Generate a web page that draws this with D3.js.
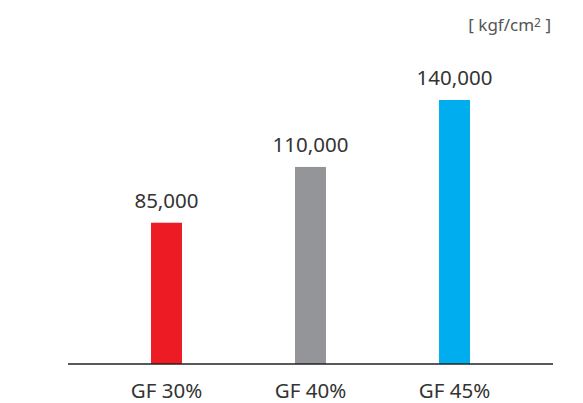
<!DOCTYPE html>
<html><head><meta charset="utf-8">
<script src="https://cdn.jsdelivr.net/npm/d3@7"></script>
<style>body{margin:0;background:#fff}</style>
</head><body>
<script>
const categories = ["GF 30%", "GF 40%", "GF 45%"];
const values = [85000, 110000, 140000];
const colors = ["#ED1C24", "#939598", "#00AEEF"];
const unitLabel = "kgf/cm";

const W = 583, H = 403;
const svg = d3.select("body").append("svg").attr("width", W).attr("height", H);
const font = "'Noto Sans', 'Open Sans', sans-serif";

const x = d3.scaleBand().domain(categories).range([68, 553]).paddingInner(0.785).paddingOuter(0.5765);
const y = d3.scaleLinear().domain([21700, 140000]).range([364, 100]);

svg.selectAll("rect.bar").data(values).join("rect")
  .attr("class", "bar")
  .attr("x", (d, i) => x(categories[i]))
  .attr("width", x.bandwidth())
  .attr("y", d => y(d))
  .attr("height", d => y.range()[0] - y(d))
  .attr("fill", (d, i) => colors[i]);

const xAxis = svg.append("g").attr("transform", "translate(0,364)")
  .call(d3.axisBottom(x).tickSize(0).tickPadding(0));
xAxis.select(".domain").attr("stroke", "#222").attr("stroke-width", 1.3).attr("d", "M68,0H553");
xAxis.selectAll("text").attr("font-family", font).attr("font-size", 20.5).attr("fill", "#333")
  .attr("dy", null).attr("y", 33.5);

svg.selectAll("text.val").data(values).join("text")
  .attr("class", "val")
  .attr("x", (d, i) => x(categories[i]) + x.bandwidth() / 2)
  .attr("y", d => y(d) - 15)
  .attr("text-anchor", "middle")
  .attr("font-family", font).attr("font-size", 20.5).attr("fill", "#333")
  .text(d => d3.format(",")(d));

const u = svg.append("text").attr("x", 551).attr("y", 31).attr("text-anchor", "end")
  .attr("font-family", font).attr("font-size", 17).attr("fill", "#555");
u.append("tspan").text("[ " + unitLabel);
u.append("tspan").attr("font-size", 12).attr("dy", -4).text("2");
u.append("tspan").attr("dy", 4).text(" ]");
</script>
</body></html>
